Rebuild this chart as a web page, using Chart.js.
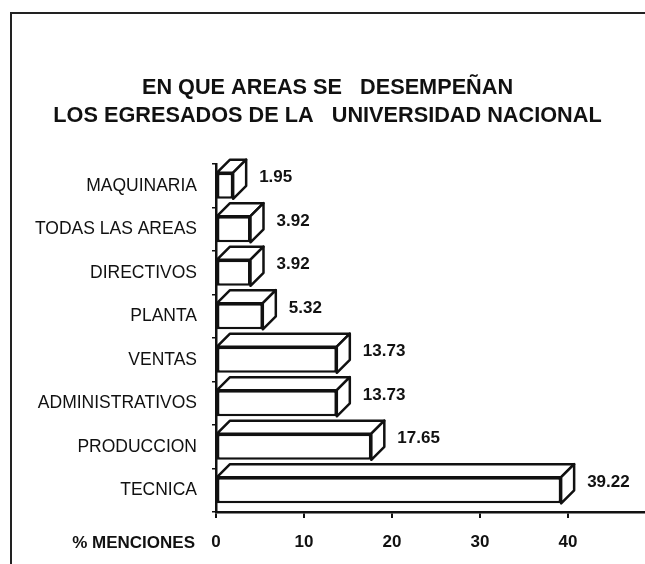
<!DOCTYPE html>
<html>
<head>
<meta charset="utf-8">
<script src="https://cdn.jsdelivr.net/npm/chart.js@4/dist/chart.umd.min.js"></script>
<style>
  html, body { margin: 0; padding: 0; background: #fff; }
  #wrap { width: 645px; height: 564px; }
</style>
</head>
<body>
<div id="wrap"><canvas id="c" width="645" height="564"></canvas></div>
<script>
// ---- data ----
const categories = ['MAQUINARIA', 'TODAS LAS AREAS', 'DIRECTIVOS', 'PLANTA', 'VENTAS', 'ADMINISTRATIVOS', 'PRODUCCION', 'TECNICA'];
const mentions = [1.95, 3.92, 3.92, 5.32, 13.73, 13.73, 17.65, 39.22];
const xTickValues = [0, 10, 20, 30, 40];
const titleLines = ['EN QUE AREAS SE   DESEMPEÑAN', 'LOS EGRESADOS DE LA   UNIVERSIDAD NACIONAL'];
const axisCaption = '% MENCIONES';

const FONT = '"Liberation Sans", Arial, Helvetica, sans-serif';
const INK = '#111';
const DEPTH_X = 13, DEPTH_Y = 13;

const framePlugin = {
  id: 'frame',
  beforeDraw(chart) {
    const ctx = chart.ctx;
    ctx.save();
    ctx.fillStyle = '#fff';
    ctx.fillRect(0, 0, chart.width, chart.height);
    ctx.strokeStyle = '#222';
    ctx.lineWidth = 2;
    ctx.beginPath();
    ctx.moveTo(11, chart.height);
    ctx.lineTo(11, 13);
    ctx.lineTo(chart.width, 13);
    ctx.stroke();
    ctx.restore();
  }
};

const box3dPlugin = {
  id: 'box3d',
  afterDatasetsDraw(chart) {
    const ctx = chart.ctx;
    const meta = chart.getDatasetMeta(0);
    ctx.save();
    ctx.lineWidth = 2.5;
    ctx.strokeStyle = INK;
    ctx.lineJoin = 'round';
    meta.data.forEach((bar, i) => {
      const p = bar.getProps(['x', 'y', 'base', 'height'], true);
      const top = p.y - p.height / 2, bottom = p.y + p.height / 2;
      ctx.fillStyle = '#fff';
      // top face
      ctx.beginPath();
      ctx.moveTo(p.base, top);
      ctx.lineTo(p.base + DEPTH_X, top - DEPTH_Y);
      ctx.lineTo(p.x + DEPTH_X, top - DEPTH_Y);
      ctx.lineTo(p.x, top);
      ctx.closePath();
      ctx.fill(); ctx.stroke();
      // side face
      ctx.beginPath();
      ctx.moveTo(p.x, top);
      ctx.lineTo(p.x + DEPTH_X, top - DEPTH_Y);
      ctx.lineTo(p.x + DEPTH_X, bottom - DEPTH_Y);
      ctx.lineTo(p.x, bottom);
      ctx.closePath();
      ctx.fill(); ctx.stroke();
      // value label
      ctx.fillStyle = INK;
      ctx.font = 'bold 17px ' + FONT;
      ctx.textAlign = 'left';
      ctx.textBaseline = 'middle';
      ctx.fillText(mentions[i].toFixed(2), p.x + DEPTH_X + 13, p.y - 8);
    });
    // axis caption next to x tick labels
    const xs = chart.scales.x;
    ctx.fillStyle = INK;
    ctx.font = 'bold 17px ' + FONT;
    ctx.textAlign = 'right';
    ctx.textBaseline = 'middle';
    ctx.fillText(axisCaption, chart.chartArea.left - 21, xs.top + 31);
    ctx.restore();
  }
};

new Chart(document.getElementById('c'), {
  type: 'bar',
  data: {
    labels: categories,
    datasets: [{
      data: mentions,
      backgroundColor: '#fff',
      borderColor: INK,
      borderWidth: 2.5,
      borderSkipped: false,
      barPercentage: 0.6,
      categoryPercentage: 1.0
    }]
  },
  options: {
    indexAxis: 'y',
    responsive: false,
    animation: false,
    layout: { padding: { left: 10, right: 0, top: 0, bottom: 0 } },
    plugins: {
      legend: { display: false },
      tooltip: { enabled: false },
      title: {
        display: true,
        text: titleLines,
        color: INK,
        font: { family: FONT, size: 21.7, weight: 'bold', lineHeight: 1.29 },
        padding: { top: 74, bottom: 34 }
      }
    },
    scales: {
      x: {
        min: 0,
        max: 48.75,
        afterBuildTicks(scale) {
          scale.ticks = xTickValues.map(v => ({ value: v }));
        },
        afterFit(scale) { scale.height = 52; },
        ticks: {
          color: INK,
          font: { family: FONT, size: 17, weight: 'bold' },
          padding: 14,
          maxRotation: 0
        },
        grid: {
          drawOnChartArea: false,
          drawTicks: true,
          tickLength: 6,
          color: INK,
          lineWidth: 2
        },
        border: { display: true, color: INK, width: 2.5 }
      },
      y: {
        afterFit(scale) { scale.width = 206; },
        ticks: {
          color: INK,
          font: { family: FONT, size: 17.5 },
          padding: 15
        },
        grid: {
          drawOnChartArea: false,
          drawTicks: true,
          tickLength: 4,
          color: INK,
          lineWidth: 1.5
        },
        border: { display: true, color: INK, width: 2.5 }
      }
    }
  },
  plugins: [framePlugin, box3dPlugin]
});
</script>
</body>
</html>
